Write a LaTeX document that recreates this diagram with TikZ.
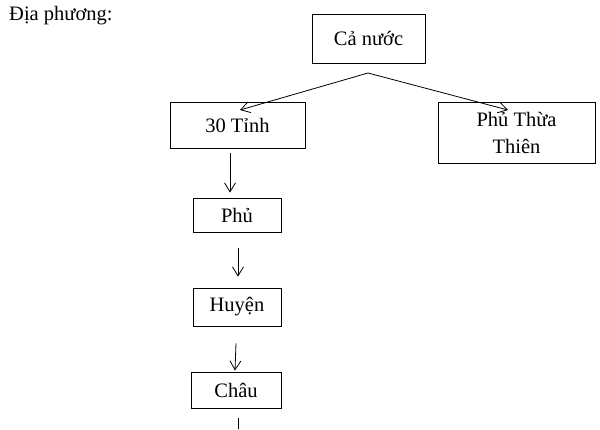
\documentclass[tikz,border=0pt]{standalone}
\usepackage{fontspec}
\setmainfont{Liberation Serif}
\usetikzlibrary{
  arrows.meta,
  positioning
}

\begin{document}
\begin{tikzpicture}[x=1pt,y=-1pt,every text node part/.style={align=center},
  font=\fontsize{20.5}{27}\selectfont,
  box/.style={rectangle,draw=black,fill=white,line width=0.8pt,inner sep=0pt},
  arr/.style={-{Straight Barb[length=9pt,width=11pt]},line width=0.8pt}]
  \useasboundingbox (0,0) rectangle (600,429);
  \node[anchor=base west,inner sep=0pt] (0) at (9,20) {Địa phương:};
  \node[box,minimum width=113pt,minimum height=49pt] (1) at (368.5,38.5) {Cả nước};
  \node[box,minimum width=135pt,minimum height=46pt] (2) at (237.5,125) {30 Tỉnh};
  \node[box,minimum width=157pt,minimum height=61pt] (3) at (516.5,132.5) {Phủ Thừa\\Thiên};
  \node[box,minimum width=88pt,minimum height=34pt] (4) at (237,215) {Phủ};
  \node[box,minimum width=88pt,minimum height=38pt] (5) at (237,307) {Huyện};
  \node[box,minimum width=90pt,minimum height=36pt] (6) at (236,390) {Châu};
  \coordinate (7) at (368,73);
  \coordinate (8) at (240,110);
  \coordinate (9) at (508,110);
  \coordinate (10) at (238,429);
  \draw[arr] (7) -- (8);
  \draw[arr] (7) -- (9);
  \draw[arr] ([xshift=-7.5pt,yshift=-5pt]2.south) -- ([xshift=-7pt,yshift=5pt]4.north);
  \draw[arr] ([xshift=1pt,yshift=-16pt]4.south) -- ([xshift=1pt,yshift=11pt]5.north);
  \draw[arr] ([xshift=-1pt,yshift=-17pt]5.south) -- ([xshift=-1pt,yshift=1pt]6.north);
  \draw[line width=0.8pt] ([xshift=2pt,yshift=-10pt]6.south) -- (10);
\end{tikzpicture}
\end{document}
